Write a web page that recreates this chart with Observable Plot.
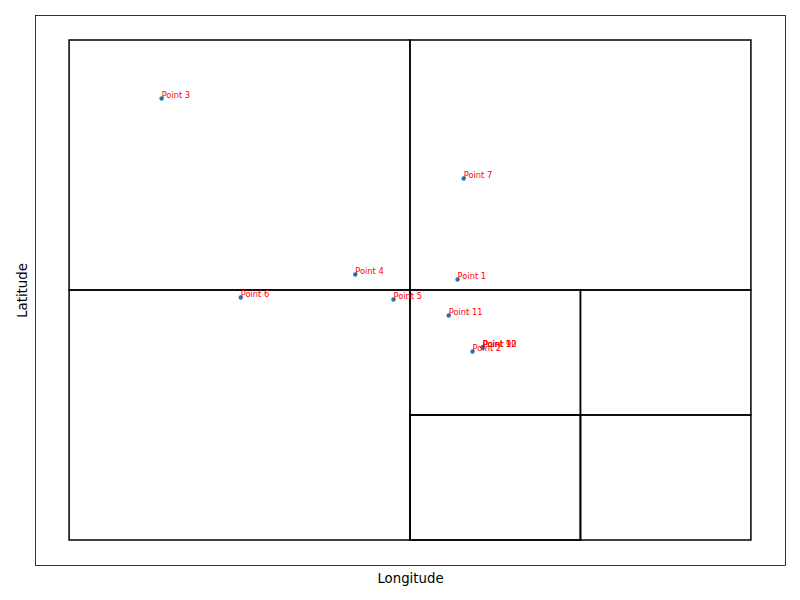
<!DOCTYPE html>
<html>
<head>
<meta charset="utf-8">
<script src="https://cdn.jsdelivr.net/npm/d3@7"></script>
<script src="https://cdn.jsdelivr.net/npm/@observablehq/plot@0.6"></script>
<style>
  body { margin: 0; background: #fff; }
  svg { font-family: "DejaVu Sans", sans-serif; }
</style>
</head>
<body>
<div id="chart"></div>
<script>
const names = ["Point 1","Point 2","Point 3","Point 4","Point 5","Point 6","Point 7","Point 9","Point 10","Point 11","Point 12"];
const lon = [56.9, 59.1, 13.5, 41.9, 47.5, 25.1, 57.8, 60.6, 60.6, 55.6, 60.6];
const lat = [52.2, 37.8, 88.4, 53.2, 48.2, 48.6, 72.4, 38.6, 38.6, 45.0, 38.6];

// quadtree cell boundaries
const cellX1 = [0, 0, 50, 50, 50, 75, 50, 75];
const cellX2 = [50, 50, 100, 75, 75, 100, 75, 100];
const cellY1 = [50, 0, 50, 25, 0, 25, 0, 0];
const cellY2 = [100, 50, 100, 50, 25, 50, 25, 25];
const cells = cellX1.map((d, i) => ({x1: d, x2: cellX2[i], y1: cellY1[i], y2: cellY2[i]}));
const points = names.map((n, i) => ({name: n, lon: lon[i], lat: lat[i]}));

const chart = Plot.plot({
  width: 800,
  height: 600,
  marginLeft: 35,
  marginRight: 15,
  marginTop: 15,
  marginBottom: 35,
  x: {domain: [-5, 105], axis: null},
  y: {domain: [-5, 105], axis: null},
  style: {fontFamily: "DejaVu Sans, sans-serif", background: "#fff"},
  marks: [
    Plot.frame({stroke: "black", strokeWidth: 0.8}),
    Plot.rect(cells, {x1: "x1", x2: "x2", y1: "y1", y2: "y2", fill: "none", stroke: "black", strokeWidth: 1.5}),
    Plot.dot(points, {x: "lon", y: "lat", r: 2.2, fill: "#1f77b4", stroke: "none"}),
    Plot.text(points, {x: "lon", y: "lat", text: "name", fill: "red", fontSize: 8.3, textAnchor: "start", lineAnchor: "bottom", dy: -1}),
    Plot.text(["Longitude"], {frameAnchor: "bottom", dy: 13, lineAnchor: "middle", textAnchor: "middle", fontSize: 13.3, fill: "black"}),
    Plot.text(["Latitude"], {frameAnchor: "left", dx: -13, rotate: -90, lineAnchor: "middle", textAnchor: "middle", fontSize: 13.3, fill: "black"})
  ]
});
document.getElementById("chart").appendChild(chart);
</script>
</body>
</html>
